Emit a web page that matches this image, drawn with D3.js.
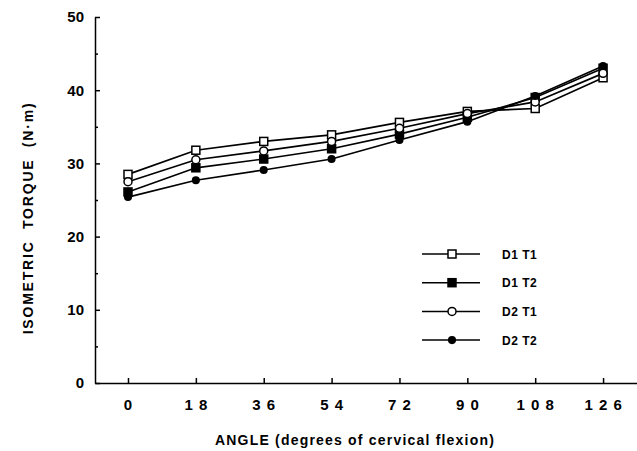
<!DOCTYPE html>
<html>
<head>
<meta charset="utf-8">
<script src="https://cdn.jsdelivr.net/npm/d3@7"></script>
<style>
  body { margin: 0; background: #fff; }
  svg { display: block; font-family: "Liberation Sans", Arial, sans-serif; }
  .axis path, .axis line { stroke: #000; stroke-width: 1.5; }
  .axis text { font-size: 15px; font-weight: bold; fill: #000; }
</style>
</head>
<body>
<div class="container"></div>
<script>
// angles (degrees of cervical flexion)
const angles = [0, 18, 36, 54, 72, 90, 108, 126];
const xTickLabels = ["0", "1 8", "3 6", "5 4", "7 2", "9 0", "1 0 8", "1 2 6"];
const yTicks = [0, 10, 20, 30, 40, 50];
const yMinorTicks = [5, 15, 25, 35, 45];

// isometric torque (N·m)
const d1t1 = [28.5, 31.8, 33.0, 33.9, 35.6, 37.1, 37.5, 41.7];
const d1t2 = [26.1, 29.4, 30.6, 32.0, 34.0, 36.3, 39.0, 43.0];
const d2t1 = [27.5, 30.5, 31.7, 33.0, 34.8, 36.8, 38.4, 42.3];
const d2t2 = [25.4, 27.7, 29.1, 30.6, 33.2, 35.7, 39.2, 43.3];

const series = [
    { name: 'D1 T1', values: d1t1, shape: 'square', fill: '#fff' },
    { name: 'D1 T2', values: d1t2, shape: 'square', fill: '#000' },
    { name: 'D2 T1', values: d2t1, shape: 'circle', fill: '#fff' },
    { name: 'D2 T2', values: d2t2, shape: 'circle', fill: '#000' }
];

const width = 637, height = 451;

const svg = d3.select('.container').append('svg')
    .attr('width', width)
    .attr('height', height);

const x = d3.scaleLinear().domain([-8.75, 135]).range([95, 637]);
const y = d3.scaleLinear().domain([0, 50]).range([383, 17]);

// y axis, ticks pointing inward
svg.append('g')
    .attr('class', 'axis')
    .attr('transform', `translate(${x(-8.75)},0)`)
    .call(d3.axisLeft(y).tickValues(yTicks).tickSizeInner(-5).tickSizeOuter(0).tickPadding(11));

svg.append('g')
    .attr('class', 'axis')
    .attr('transform', `translate(${x(-8.75)},0)`)
    .call(d3.axisLeft(y).tickValues(yMinorTicks).tickFormat('').tickSizeInner(-3).tickSizeOuter(0))
    .select('.domain').remove();

// x axis
svg.append('g')
    .attr('class', 'axis')
    .attr('transform', `translate(0,${y(0)})`)
    .call(d3.axisBottom(x).tickValues(angles)
        .tickFormat((d, i) => xTickLabels[i])
        .tickSizeInner(-5).tickSizeOuter(0).tickPadding(16))
    .selectAll('.tick text')
    .style('letter-spacing', '1px')
    .style('white-space', 'pre');

// axis titles
svg.append('text')
    .attr('transform', `translate(33,218) rotate(-90)`)
    .attr('text-anchor', 'middle')
    .style('font-size', '14px')
    .style('font-weight', 'bold')
    .style('letter-spacing', '1.8px')
    .style('white-space', 'pre')
    .text('ISOMETRIC  TORQUE  (N·m)');

svg.append('text')
    .attr('x', 355)
    .attr('y', 445)
    .attr('text-anchor', 'middle')
    .style('font-size', '14px')
    .style('font-weight', 'bold')
    .style('letter-spacing', '1.2px')
    .text('ANGLE (degrees of cervical flexion)');

const line = d3.line()
    .x((d, i) => x(angles[i]))
    .y(d => y(d));

function drawMarker(g, shape, fill, cx, cy) {
    if (shape === 'square') {
        g.append('rect')
            .attr('x', cx - 4).attr('y', cy - 4)
            .attr('width', 8).attr('height', 8)
            .attr('fill', fill).attr('stroke', '#000').attr('stroke-width', 1.5);
    } else {
        g.append('circle')
            .attr('cx', cx).attr('cy', cy)
            .attr('r', fill === '#000' ? 3.3 : 4)
            .attr('fill', fill).attr('stroke', '#000').attr('stroke-width', 1.5);
    }
}

series.forEach(s => {
    svg.append('path')
        .datum(s.values)
        .attr('fill', 'none')
        .attr('stroke', '#000')
        .attr('stroke-width', 1.7)
        .attr('d', line);
});

series.forEach(s => {
    const g = svg.append('g');
    s.values.forEach((v, i) => drawMarker(g, s.shape, s.fill, x(angles[i]), y(v)));
});

// legend
const legend = svg.append('g');
series.forEach((s, i) => {
    const ly = 254 + i * 28.7;
    legend.append('line')
        .attr('x1', 422).attr('x2', 480)
        .attr('y1', ly).attr('y2', ly)
        .attr('stroke', '#000').attr('stroke-width', 1.5);
    drawMarker(legend, s.shape, s.fill, 452, ly);
    legend.append('text')
        .attr('x', 502).attr('y', ly + 4.5)
        .style('font-size', '12px')
        .style('font-weight', 'bold')
        .style('letter-spacing', '0.5px')
        .style('white-space', 'pre')
        .text(s.name);
});
</script>
</body>
</html>
